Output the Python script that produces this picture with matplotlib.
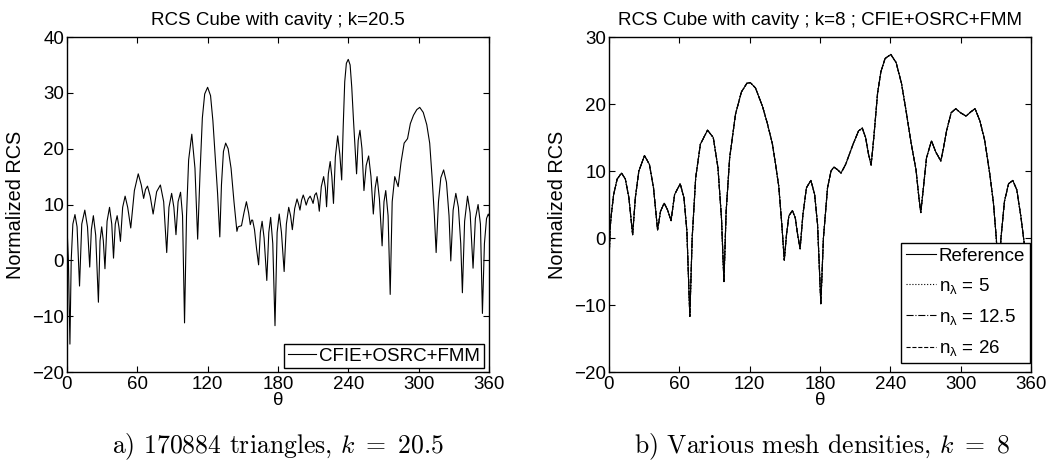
import numpy as np
import matplotlib
matplotlib.use('Agg')
import matplotlib.pyplot as plt

plt.rcParams['font.family'] = ['Liberation Sans', 'DejaVu Sans']
plt.rcParams['mathtext.default'] = 'regular'

# left panel: k = 20.5, single solver
theta_a = [0, 1.2, 2.5, 3.6, 5.0, 6.8, 8.6, 10.7, 12.6, 15.2, 17.5, 19.4, 20.8, 22.5, 24.5,
           26.8, 28.2, 29.6, 31.0, 32.4, 34.2, 36.3, 38.2, 39.7, 41.2, 42.8, 44.3, 45.6,
           47.5, 49.6, 51.8, 54.4, 57.5, 60.8, 63.4, 65.4, 67.0, 68.7, 71.0, 73.5, 76.5,
           79.7, 82.5, 85.1, 87.0, 89.3, 91.2, 93.0, 94.8, 96.9, 98.6, 100.3, 102.0, 103.8,
           106.5, 109.2, 111.5, 113.5, 115.5, 117.5, 120.0, 122.5, 124.5, 126.5, 128.5,
           130.4, 131.8, 133.5, 135.4, 137.5, 140.0, 142.5, 145.0, 146.0, 147.2, 148.9,
           151.0, 153.1, 155.0, 156.4, 157.5, 158.4, 160.0, 161.8, 163.5, 165.0, 166.5,
           168.2, 170.5, 172.2, 173.8, 175.6, 177.5, 179.3, 181.1, 183.0, 185.3, 187.2,
           189.2, 190.8, 192.3, 194.3, 196.3, 197.7, 198.8, 200.2, 201.6, 203.0, 204.1,
           205.8, 207.5, 208.8, 210.0, 211.4, 212.8, 214.2, 215.3, 217.0, 219.0, 220.5,
           221.5, 223.0, 224.6, 226.0, 227.4, 229.0, 231.0, 232.8, 234.4, 235.7, 237.0,
           238.4, 240.0, 241.6, 243.0, 244.5, 246.0, 247.1, 248.5, 250.0, 251.7, 253.4,
           255.3, 257.4, 259.4, 261.4, 263.0, 264.6, 266.6, 268.9, 270.5, 272.0, 274.0,
           275.8, 277.5, 279.7, 281.3, 282.6, 285.0, 287.7, 290.6, 293.0, 295.7, 298.5,
           301.0, 304.0, 307.0, 309.5, 311.5, 313.5, 315.0, 317.0, 319.0, 321.4, 323.8,
           326.0, 327.5, 329.5, 331.8, 334.0, 336.0, 337.4, 339.3, 341.8, 344.0, 346.5,
           348.5, 350.8, 352.8, 354.5, 356.2, 358.0, 359.5, 360.0]
rcs_a = [6, 0, -15, 0, 6.5, 8.2, 6, -4.6, 6.5, 9.0, 6, -1.2, 5.5, 8.0, 4.5,
         -7.5, 3.5, 6.0, 3.5, -1.5, 7, 9.5, 6.5, 0.4, 6.5, 8.0, 6.0, 3.4,
         9.5, 11.5, 9.5, 5.8, 12.5, 15.5, 13.5, 11.1, 12.7, 13.3, 11.5, 8.3, 12.3,
         13.5, 10.5, 1.4, 9.5, 12.0, 9.5, 4.6, 10.5, 12.2, 8, -11.2, 8, 18,
         22.6, 16.5, 3.8, 15.5, 25.5, 29.8, 31.0, 29.5, 25, 18.5, 12,
         4.2, 13.5, 19.5, 21.0, 20.0, 16.5, 10.5, 5.2, 6.0, 6.1, 6.2,
         8.5, 10.5, 8.5, 6.4, 7.2, 7.2, 5.5, 2, -0.8, 5, 7.0,
         4, -3.6, 5, 7.7, 3, -11.7, 5, 8.3, 5, -2.0, 6.5,
         9.5, 8.0, 5.5, 9.3, 11.0, 10.0, 9.0, 10.8, 11.7, 10.8, 9.9,
         11.0, 11.5, 10.9, 10.2, 11.7, 12.1, 10.8, 8.8, 13.2, 15.0, 13.0,
         9.6, 15.5, 17.7, 15.0, 10.2, 18.5, 22.3, 19.0, 14.4, 24, 32,
         35.3, 36.0, 35.0, 31, 25, 19.5, 15.5, 21.5, 23.3, 20, 12.5,
         17, 18.7, 15, 8.3, 13, 15.0, 11, 2.6, 10.5, 12.5, 8,
         -6.1, 10.5, 15.0, 14.0, 13.2, 17.5, 21.0, 21.8, 24.5, 26.0, 27.0,
         27.4, 26.5, 24.3, 21, 15, 8, 1.4, 10.5, 14.8, 16.2, 14.0,
         8, -0.1, 9, 12.0, 9.5, 3, -5.8, 7, 11.5, 8.5, -1.4,
         7.5, 10.0, 6.5, -9.5, 3, 7.5, 8.3, 8.0]

# right panel: k = 8, various mesh densities (curves coincide)
theta_b = [0, 1.0, 2.0, 4.0, 7.0, 10.7, 14.0, 17.0, 20.2, 22.5, 25.5, 30.3, 34.5, 38.0,
           41.5, 44.0, 47.1, 50.0, 53.0, 56.0, 60.8, 64.0, 66.5, 69.0, 71.0, 74.0, 78.0,
           84.1, 89.0, 93.0, 96.0, 98.1, 100.0, 103.0, 108.0, 113.0, 117.7, 120.6, 125.0,
           131.1, 135.0, 139.4, 142.0, 144.9, 147.5, 149.6, 151.5, 153.5, 156.5, 159.0,
           161.0, 163.1, 165.5, 168.5, 172.3, 175.5, 178.0, 180.8, 183.0, 186.5, 189.5,
           191.9, 195.0, 198.0, 202.0, 208.5, 213.0, 216.2, 219.0, 221.5, 223.7, 226.0,
           229.2, 232.0, 235.6, 240.5, 245.0, 249.6, 253.5, 257.9, 262.0, 264.5, 266.1,
           268.0, 271.0, 275.2, 279.0, 283.2, 285.5, 288.2, 292.0, 295.9, 300.0, 304.7,
           308.5, 312.4, 316.5, 320.6, 325.0, 328.1, 330.5, 332.5, 334.5, 337.5, 341.0,
           344.6, 348.0, 351.5, 354.5, 357.0, 360.0]
rcs_b = [-4, 1.5, 3.5, 6.5, 8.8, 9.7, 8.8, 6, 0.5, 6, 10, 12.3, 11, 7.5,
         1.2, 4, 5.2, 4.2, 2.6, 6.5, 8.1, 6.0, 1, -11.7, 0, 9, 14,
         16.1, 15.0, 10.5, 3, -6.5, 4, 12, 18.5, 21.8, 23.1, 23.2, 22.4,
         19.6, 17.2, 14.1, 11.2, 7.7, 2, -3.3, 0.5, 3.3, 4.1, 3,
         0.5, -1.6, 3.5, 7.5, 8.6, 6.5, 2, -9.8, 0, 7.5, 10.0,
         10.6, 10.2, 9.7, 11.0, 14.1, 16.0, 16.4, 15.0, 12.5, 10.9, 15,
         21.6, 24.8, 26.8, 27.4, 26.2, 23.1, 19, 14.1, 10.2, 6, 3.8,
         7, 12, 14.5, 12.8, 11.5, 13.5, 16.1, 18.7, 19.3, 18.7, 18.2,
         18.8, 19.3, 17.5, 14.6, 9.5, 5.2, 0, -6, 0, 5.5, 8.1,
         8.6, 7.2, 3.2, -1, -3, -5]

labels_b = ['Reference', '$n_{λ}$ = 5', '$n_{λ}$ = 12.5', '$n_{λ}$ = 26']
styles_b = ['-', ':', '-.', '--']
xticks = [0, 60, 120, 180, 240, 300, 360]

fig = plt.figure(figsize=(10.6, 4.63), dpi=100)
ax1 = fig.add_axes([0.0632, 0.1965, 0.398, 0.7235])
ax2 = fig.add_axes([0.5745, 0.1965, 0.398, 0.7235])

ax1.plot(theta_a, rcs_a, color='k', lw=0.8, label='CFIE+OSRC+FMM')
for st, lab in zip(styles_b, labels_b):
    ax2.plot(theta_b, rcs_b, color='k', lw=0.8, linestyle=st, label=lab)

for ax, ylim, title in [(ax1, (-20, 40), 'RCS Cube with cavity ; k=20.5'),
                        (ax2, (-20, 30), 'RCS Cube with cavity ; k=8 ; CFIE+OSRC+FMM')]:
    ax.set_xlim(0, 360)
    ax.set_ylim(*ylim)
    ax.set_xticks(xticks)
    ax.set_title(title, fontsize=13.5, pad=9)
    ax.set_xlabel('θ', fontsize=13.5, labelpad=-1)
    ax.set_ylabel('Normalized RCS', fontsize=14.3, labelpad=5)
    ax.tick_params(direction='in', top=True, right=True, length=4, width=0.8,
                   labelsize=13.5)
    ax.tick_params(axis='x', pad=3)
    ax.tick_params(axis='y', pad=2)
    for sp in ax.spines.values():
        sp.set_linewidth(1.0)

leg1 = ax1.legend(loc='lower right', bbox_to_anchor=(0.988, 0.011), borderaxespad=0,
                  fontsize=13.5, fancybox=False, framealpha=1, edgecolor='k',
                  handlelength=1.5, handletextpad=0.15, borderpad=0.2)
leg1.get_frame().set_linewidth(1.0)
leg2 = ax2.legend(loc='lower right', bbox_to_anchor=(0.997, 0.027), borderaxespad=0,
                  fontsize=13.5, fancybox=False, framealpha=1, edgecolor='k',
                  handlelength=1.6, handletextpad=0.15, borderpad=0.25, labelspacing=0.6)
leg2.get_frame().set_linewidth(1.0)

fig.text(0.262, 0.035, r'a) 170884 triangles, $\mathit{k}\ =\ 20.5$', ha='center',
         va='center', family='cmr10', math_fontfamily='cm', fontsize=18.5)
fig.text(0.776, 0.035, r'b) Various mesh densities, $\mathit{k}\ =\ 8$', ha='center',
         va='center', family='cmr10', math_fontfamily='cm', fontsize=18.5)

fig.savefig('out.png', dpi=100)
